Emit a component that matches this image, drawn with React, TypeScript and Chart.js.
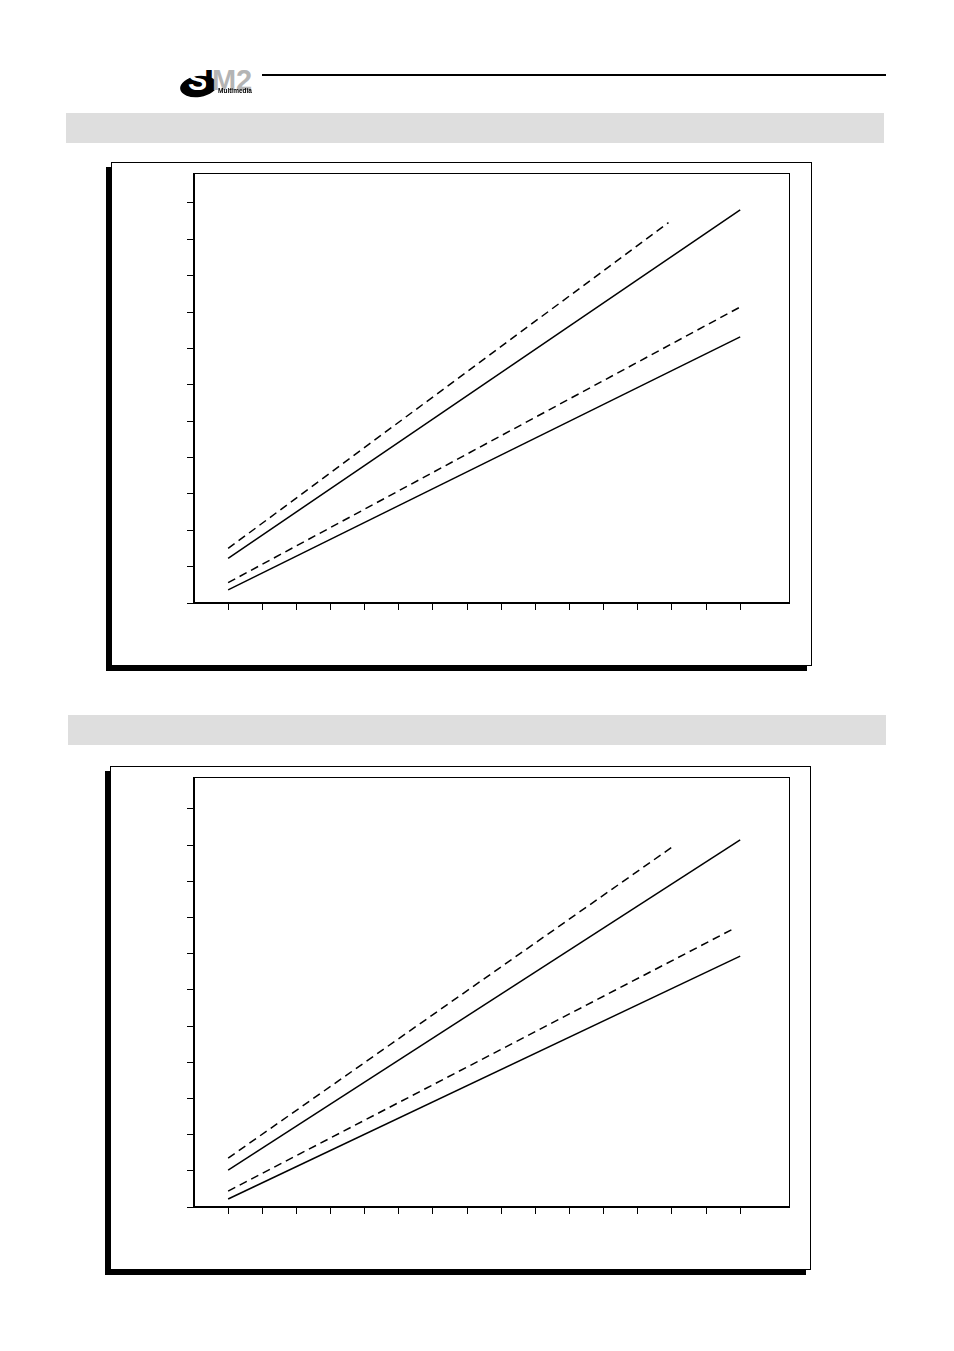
import React, { useEffect, useRef } from "react";
import { Chart, registerables } from "chart.js";

Chart.register(...registerables);

// ---- axis ticks ----
const xTickValues = [1, 2, 3, 4, 5, 6, 7, 8, 9, 10, 11, 12, 13, 14, 15, 16];
const yTickValues = [0, 1, 2, 3, 4, 5, 6, 7, 8, 9, 10, 11];
const xMin = 0;
const xMax = 17.43;

// ---- chart 1 ----
const c1YMax = 11.825;
const c1UpperDashedX = [1, 13.9];
const c1UpperDashedY = [1.5, 10.46];
const c1UpperSolidX = [1, 16];
const c1UpperSolidY = [1.23, 10.81];
const c1LowerDashedX = [1, 16];
const c1LowerDashedY = [0.56, 8.14];
const c1LowerSolidX = [1, 16];
const c1LowerSolidY = [0.36, 7.32];

// ---- chart 2 ----
const c2YMax = 11.88;
const c2UpperDashedX = [1, 14.0];
const c2UpperDashedY = [1.35, 9.94];
const c2UpperSolidX = [1, 16];
const c2UpperSolidY = [1.02, 10.14];
const c2LowerDashedX = [1, 15.85];
const c2LowerDashedY = [0.44, 7.71];
const c2LowerSolidX = [1, 16];
const c2LowerSolidY = [0.22, 6.93];

type Series = { xs: number[]; ys: number[]; dashed: boolean };

const chart1Series: Series[] = [
  { xs: c1UpperDashedX, ys: c1UpperDashedY, dashed: true },
  { xs: c1UpperSolidX, ys: c1UpperSolidY, dashed: false },
  { xs: c1LowerDashedX, ys: c1LowerDashedY, dashed: true },
  { xs: c1LowerSolidX, ys: c1LowerSolidY, dashed: false },
];
const chart2Series: Series[] = [
  { xs: c2UpperDashedX, ys: c2UpperDashedY, dashed: true },
  { xs: c2UpperSolidX, ys: c2UpperSolidY, dashed: false },
  { xs: c2LowerDashedX, ys: c2LowerDashedY, dashed: true },
  { xs: c2LowerSolidX, ys: c2LowerSolidY, dashed: false },
];

const plotFrame = {
  id: "plotFrame",
  afterDraw(chart: any) {
    const { ctx, chartArea: a } = chart;
    ctx.save();
    ctx.strokeStyle = "#000";
    ctx.lineWidth = 1;
    ctx.strokeRect(a.left + 0.5, a.top + 0.5, a.right - a.left, a.bottom - a.top);
    ctx.lineWidth = 2;
    ctx.beginPath();
    ctx.moveTo(a.left, a.top);
    ctx.lineTo(a.left, a.bottom);
    ctx.lineTo(a.right + 1, a.bottom);
    ctx.stroke();
    ctx.restore();
  },
};

const CW = 660;
const CH = 480;

function LineChart({ series, yMax }: { series: Series[]; yMax: number }) {
  const ref = useRef<HTMLCanvasElement | null>(null);
  useEffect(() => {
    if (!ref.current) return;
    const chart = new Chart(ref.current, {
      type: "line",
      data: {
        datasets: series.map((s) => ({
          data: s.xs.map((x, i) => ({ x, y: s.ys[i] })),
          borderColor: "#000",
          borderWidth: 1.5,
          borderDash: s.dashed ? [8, 5] : [],
          pointRadius: 0,
          fill: false,
          tension: 0,
        })),
      },
      options: {
        responsive: false,
        animation: false,
        events: [],
        layout: { padding: { left: 0, top: 8, right: 21, bottom: 0 } },
        plugins: { legend: { display: false }, tooltip: { enabled: false } },
        scales: {
          x: {
            type: "linear",
            min: xMin,
            max: xMax,
            afterBuildTicks: (scale: any) => {
              scale.ticks = xTickValues.map((v) => ({ value: v }));
            },
            afterFit: (scale: any) => {
              scale.height = 42;
            },
            ticks: { display: false },
            border: { display: false },
            grid: {
              drawOnChartArea: false,
              drawTicks: true,
              tickLength: 7,
              tickColor: "#000",
              tickWidth: 1,
            },
          },
          y: {
            type: "linear",
            min: 0,
            max: yMax,
            afterBuildTicks: (scale: any) => {
              scale.ticks = yTickValues.map((v) => ({ value: v }));
            },
            afterFit: (scale: any) => {
              scale.width = 44;
            },
            ticks: { display: false },
            border: { display: false },
            grid: {
              drawOnChartArea: false,
              drawTicks: true,
              tickLength: 7,
              tickColor: "#000",
              tickWidth: 1,
            },
          },
        },
      },
      plugins: [plotFrame],
    } as any);
    return () => chart.destroy();
  }, [series, yMax]);
  return <canvas ref={ref} width={CW} height={CH} style={{ width: CW, height: CH, display: "block" }} />;
}

function Panel({ top, left, barTop, barLeft, series, yMax }: any) {
  return (
    <>
      <div
        style={{
          position: "absolute",
          left: barLeft,
          top: barTop,
          width: 818,
          height: 30,
          background: "#dedede",
        }}
      />
      <div
        style={{
          position: "absolute",
          left,
          top,
          width: 701,
          height: 504,
          boxSizing: "border-box",
          border: "1.5px solid #000",
          background: "#fff",
          boxShadow: "-5px 5px 0 0 #000",
        }}
      />
      <div style={{ position: "absolute", left: 150, top: top + 3, width: CW, height: CH }}>
        <LineChart series={series} yMax={yMax} />
      </div>
    </>
  );
}

const logoFont: React.CSSProperties = {
  position: "absolute",
  top: 64,
  fontFamily: "'Liberation Sans', Arial, sans-serif",
  fontWeight: "bold",
  fontSize: 29,
  lineHeight: "32px",
  whiteSpace: "nowrap",
};

export default function App() {
  return (
    <div
      style={{
        position: "absolute",
        left: 0,
        top: 0,
        width: 954,
        height: 1351,
        background: "#fff",
        overflow: "hidden",
      }}
    >
      {/* logo */}
      <div
        style={{
          position: "absolute",
          left: 180,
          top: 76,
          width: 37,
          height: 21,
          borderRadius: "50%",
          background: "#000",
          transform: "rotate(-8deg)",
        }}
      />
      <div style={{ ...logoFont, left: 188, color: "#fff" }}>S</div>
      <div style={{ ...logoFont, left: 205, color: "#000", transform: "scaleX(1.3)" }}>I</div>
      <div style={{ ...logoFont, left: 212, color: "#b4b4b4" }}>M</div>
      <div style={{ ...logoFont, left: 236, color: "#b4b4b4" }}>2</div>
      <div
        style={{
          position: "absolute",
          left: 218,
          top: 87,
          fontFamily: "'Liberation Sans', Arial, sans-serif",
          fontWeight: "bold",
          fontSize: 6.5,
          lineHeight: "8px",
          color: "#000",
          whiteSpace: "nowrap",
          transform: "translateZ(0)",
        }}
      >
        Multimedia
      </div>
      <div style={{ position: "absolute", left: 262, top: 74, width: 624, height: 2, background: "#000" }} />

      <Panel top={162} left={111} barTop={113} barLeft={66} series={chart1Series} yMax={c1YMax} />
      <Panel top={766} left={110} barTop={715} barLeft={68} series={chart2Series} yMax={c2YMax} />
    </div>
  );
}
